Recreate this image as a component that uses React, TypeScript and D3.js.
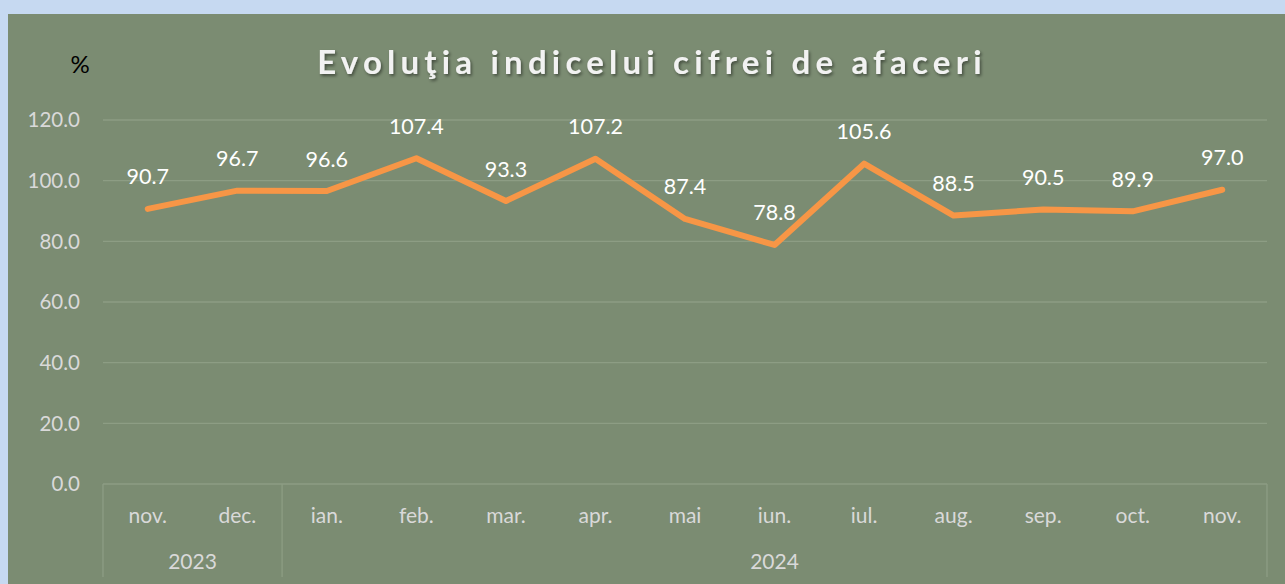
import React from 'react';
import * as d3 from 'd3';

const months = ['nov.', 'dec.', 'ian.', 'feb.', 'mar.', 'apr.', 'mai', 'iun.', 'iul.', 'aug.', 'sep.', 'oct.', 'nov.'];
const years = [
  { label: '2023', count: 2 },
  { label: '2024', count: 11 },
];
const values = [90.7, 96.7, 96.6, 107.4, 93.3, 107.2, 87.4, 78.8, 105.6, 88.5, 90.5, 89.9, 97.0];
const yTicks = [0, 20, 40, 60, 80, 100, 120];

const W = 1285;
const H = 584;
const left = 103;
const right = 1267;
const top = 120;
const bottom = 484;

const App = () => {
  const ids = months.map((_, i) => String(i));
  const x = d3.scaleBand().domain(ids).range([left, right]).padding(0);
  const y = d3.scaleLinear().domain([0, 120]).range([bottom, top]);

  const line = d3.line<number>()
    .x((_, i) => (x(String(i)) as number) + x.bandwidth() / 2)
    .y(d => y(d));

  // year group boundaries
  let acc = 0;
  const groups = years.map(g => {
    const start = acc;
    acc += g.count;
    return { ...g, start, end: acc };
  });
  const bx = (i: number) => (i >= months.length ? right : (x(String(i)) as number));

  const font = 'Lato, "Open Sans", sans-serif';

  return (
    <svg width={W} height={H} style={{ position: 'absolute', left: 0, top: 0 }} fontFamily={font}>
      <defs>
        <filter id="shadow" x="-10%" y="-30%" width="120%" height="160%">
          <feDropShadow dx="1.5" dy="2" stdDeviation="1.5" floodColor="#000" floodOpacity="0.45" />
        </filter>
      </defs>
      <rect x={0} y={0} width={W} height={H} fill="#c6d9f1" />
      <rect x={8} y={14} width={W - 8} height={H - 14} fill="#7b8c72" />

      <text x={652} y={74} textAnchor="middle" fontSize={33} fontWeight="bold" fill="#f2f2f2"
        letterSpacing="5.2" filter="url(#shadow)">Evoluţia indicelui cifrei de afaceri</text>
      <text x={80} y={73} textAnchor="middle" fontSize={24} fill="#000">%</text>

      {/* gridlines */}
      {yTicks.filter(t => t > 0).map(t => (
        <line key={t} x1={left} x2={right} y1={y(t)} y2={y(t)} stroke="#8d9d84" strokeWidth={1.3} />
      ))}
      {yTicks.map(t => (
        <text key={'l' + t} x={80} y={y(t)} dy="0.35em" textAnchor="end" fontSize={20.5} fill="#d9d9d9">
          {d3.format('.1f')(t)}
        </text>
      ))}

      {/* category axis */}
      <line x1={left} x2={right} y1={bottom} y2={bottom} stroke="#8d9d84" strokeWidth={1.3} />
      {[0, ...groups.map(g => g.end)].map(i => (
        <line key={'v' + i} x1={bx(i)} x2={bx(i)} y1={bottom} y2={577} stroke="#8d9d84" strokeWidth={1.3} />
      ))}
      {months.map((m, i) => (
        <text key={'m' + i} x={(x(String(i)) as number) + x.bandwidth() / 2} y={516} dy="0.35em"
          textAnchor="middle" fontSize={21} fill="#d9d9d9">{m}</text>
      ))}
      {groups.map(g => (
        <text key={g.label} x={(bx(g.start) + bx(g.end)) / 2} y={562} dy="0.35em"
          textAnchor="middle" fontSize={21} fill="#d9d9d9">{g.label}</text>
      ))}

      <path d={line(values) as string} fill="none" stroke="#f79646" strokeWidth={6} strokeLinejoin="round" strokeLinecap="round" />

      {values.map((v, i) => (
        <text key={'d' + i} x={(x(String(i)) as number) + x.bandwidth() / 2} y={y(v) - 32} dy="0.35em"
          textAnchor="middle" fontSize={21.5} fill="#ffffff">{d3.format('.1f')(v)}</text>
      ))}
    </svg>
  );
};

export default App;
